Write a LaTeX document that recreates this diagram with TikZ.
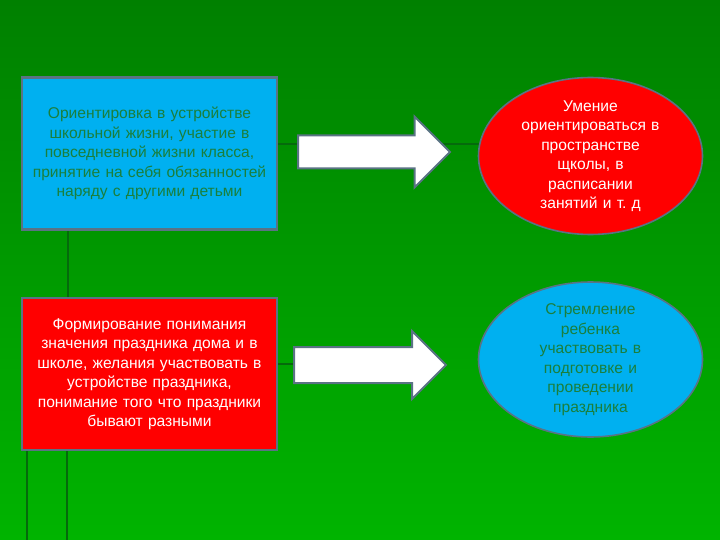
\documentclass[tikz,border=0pt]{standalone}
\usepackage{fontspec}
\setmainfont{Liberation Sans}
\usepackage{tikz}
\usetikzlibrary{shapes.geometric, shapes.arrows, backgrounds}
\definecolor{bgtop}{HTML}{008000}
\definecolor{bgbot}{HTML}{00B400}
\definecolor{skyc}{HTML}{00B0F0}
\definecolor{redc}{HTML}{FF0000}
\definecolor{edgec}{HTML}{5A7384}
\definecolor{txtc}{HTML}{1A7F3C}
\definecolor{linec}{HTML}{056A0C}
\frenchspacing

\begin{document}
\begin{tikzpicture}[x=1pt, y=-1pt,
      box/.style={draw=edgec, line width=2.5pt, minimum width=255pt, minimum height=152pt,
                  text width=250pt, align=center, inner sep=0pt,
                  font=\fontsize{15.6}{19.5}\selectfont},
      oval/.style={ellipse, draw=edgec, line width=1.6pt, minimum width=224pt, minimum height=157pt,
                   text width=140pt, align=center, inner xsep=0pt, inner ysep=-8pt,
                   font=\fontsize{15.6}{19.5}\selectfont},
      bigar/.style={single arrow, draw=edgec, fill=white, line width=2pt, inner sep=0pt,
                    single arrow tip angle=90, minimum height=152pt, anchor=tail},
      deco/.style={draw=linec, line width=2pt}]
    \useasboundingbox (0,0) rectangle (720,540);
    % left boxes
    \node[box, fill=skyc, text=txtc] (B1) at (149.5,153.5)
      {Ориентировка в устройстве\\ школьной жизни, участие в\\ повседневной жизни класса,\\
       принятие на себя обязанностей\\ наряду с другими детьми};
    \node[box, fill=redc, text=white] (B2) at (149.5,374)
      {Формирование понимания\\ значения праздника дома и в\\ школе, желания участвовать в\\
       устройстве праздника,\\ понимание того что праздники\\ бывают разными};
    % arrows
    \node[bigar, text height=15.5pt, text depth=15.5pt, single arrow head extend=19pt] (A1) at (297,152) {};
    \node[bigar, text height=17pt, text depth=17pt, single arrow head extend=16pt] (A2) at (293,365) {};
    % right ovals
    \node[oval, fill=redc, text=white] (E1) at (590.5,156)
      {Умение\\ ориентироваться в\\ пространстве\\ щколы, в\\ расписании\\ занятий и т. д};
    \node[oval, fill=skyc, text=txtc, minimum height=155pt] (E2) at (590.5,359.5)
      {Стремление\\ ребенка\\ участвовать в\\ подготовке и\\ проведении\\ праздника};
    % background and template lines
    \begin{scope}[on background layer]
      \shade[top color=bgtop, bottom color=bgbot] (0,0) rectangle (720,540);
      \draw[deco] ([yshift=9pt]B1.east) -- ([yshift=9pt]B1.east -| E1.center);
      \draw[deco] ([yshift=10pt]B2.east) -- ([yshift=10pt]B2.east -| A2.center);
      \draw[deco] ([xshift=-81.5pt]B1.south) -- ([xshift=-81.5pt]B2.north);
      \foreach \dx in {-122.5,-82.5}{
        \draw[deco] ([xshift=\dx pt]B2.south) -- ([xshift=\dx pt]B2.south |- 0,540);}
    \end{scope}
\end{tikzpicture}
\end{document}
